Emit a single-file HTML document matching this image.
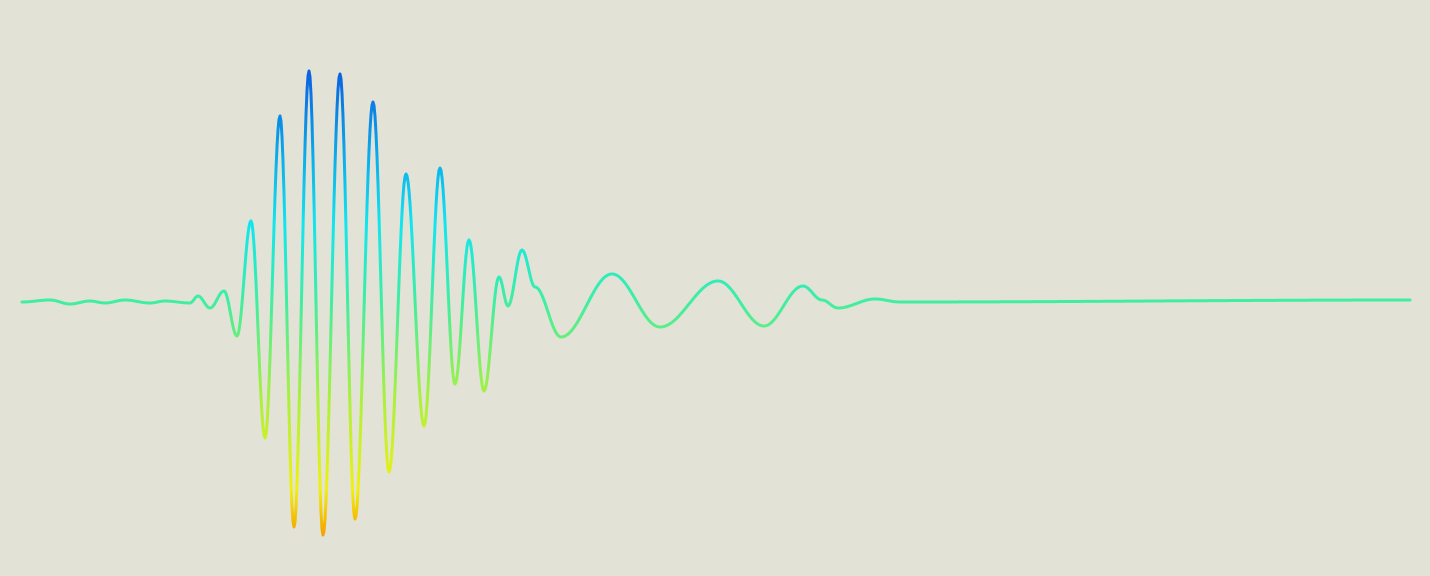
<!DOCTYPE html>
<html><head><meta charset="utf-8"><style>
html,body{margin:0;padding:0;background:#e3e2d6;}
svg{display:block;}
</style></head><body>
<svg id="chart" width="1430" height="576" viewBox="0 0 1430 576">
<defs>
<linearGradient id="grad" gradientUnits="userSpaceOnUse" x1="0" y1="70" x2="0" y2="536">
<stop offset="0" stop-color="#0a5fe0"/>
<stop offset="0.15" stop-color="#0a9ee8"/>
<stop offset="0.33" stop-color="#10e6f0"/>
<stop offset="0.5" stop-color="#40eea0"/>
<stop offset="0.7" stop-color="#a8f040"/>
<stop offset="0.9" stop-color="#f0f010"/>
<stop offset="1" stop-color="#f5a000"/>
</linearGradient>
</defs>
<rect x="0" y="0" width="1430" height="576" fill="#e3e2d6"/>
</svg>
<script>
// time positions (sample index along x) and amplitudes of waveform extrema
const times = [0,28,48,68,83,103,128,143,168,176,188,202,215,229,243,258,272,287,301,318,333,351,367,384,402,418,433,447,462,477,486,500,513,539,590,638,696,742,781,800,816,853,878,1388];
const amplitudes = [0,2,-2,1,-1,2,-1,1,-1,6,-6,11,-34,81,-136,186,-225,231,-233,228,-217,200,-170,128,-124,134,-82,62,-89,25,-4,52,15,-35,28,-25,21,-24,16,2,-6,3,0,2];
const xScale = t => 22 + t;
const yScale = v => 302 - v;
const svg = document.getElementById('chart');
let d = '';
for (let i = 0; i < times.length; i++) {
  if (i === 0) { d += 'M' + xScale(times[0]) + ' ' + yScale(amplitudes[0]); continue; }
  const x0 = xScale(times[i-1]), x1 = xScale(times[i]);
  const v0 = amplitudes[i-1], v1 = amplitudes[i];
  const n = Math.max(4, Math.round((x1 - x0)));
  for (let k = 1; k <= n; k++) {
    const f = k / n;
    const s = (1 - Math.cos(Math.PI * f)) / 2;
    d += ' L' + (x0 + (x1 - x0) * f).toFixed(2) + ' ' + yScale(v0 + (v1 - v0) * s).toFixed(2);
  }
}
const path = document.createElementNS('http://www.w3.org/2000/svg', 'path');
path.setAttribute('d', d);
path.setAttribute('fill', 'none');
path.setAttribute('stroke', 'url(#grad)');
path.setAttribute('stroke-width', '3');
path.setAttribute('stroke-linejoin', 'round');
path.setAttribute('stroke-linecap', 'round');


svg.appendChild(path);
</script>
</body></html>
